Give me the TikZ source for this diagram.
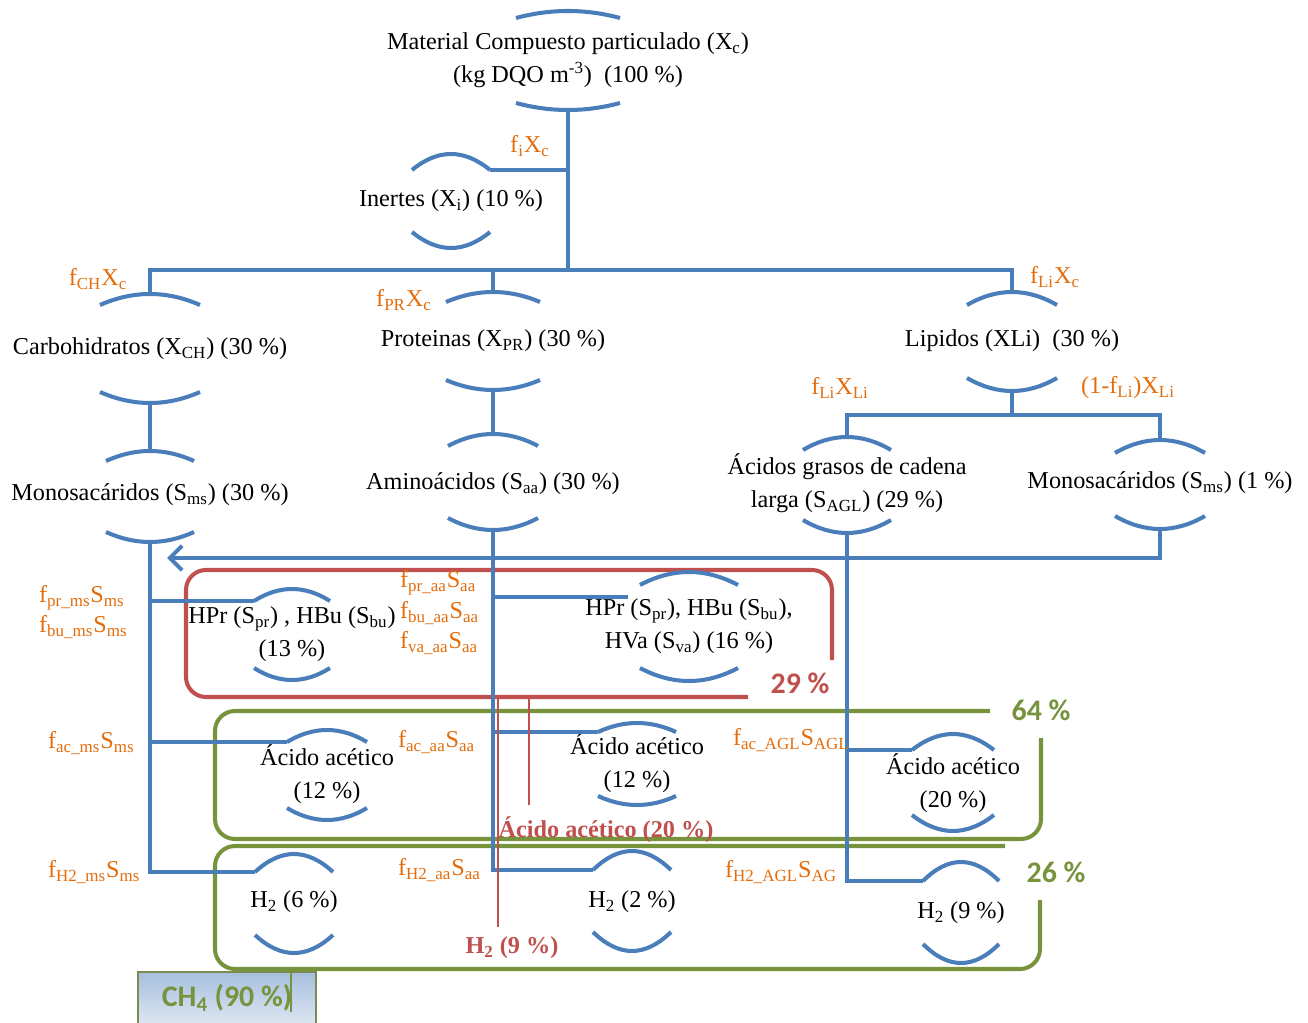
\documentclass[tikz,border=0pt]{standalone}
\usepackage{fontspec}
\setmainfont{Liberation Serif}
\newfontfamily\calibri{Carlito}
\usepackage{tikz}
\usetikzlibrary{arrows.meta, calc}

\definecolor{azul}{HTML}{4A7EBB}
\definecolor{rojo}{HTML}{C0504D}
\definecolor{verde}{HTML}{77933C}
\definecolor{naranja}{HTML}{E46C0A}
\definecolor{celeste1}{HTML}{A7BFDE}
\definecolor{celeste2}{HTML}{DCE6F2}

% arcos arriba y abajo de un nodo: nombre, semiancho, arriba, abajo, flecha
\newcommand{\arcos}[5]{%
  \coordinate (#1-tl) at ($(#1)+(-#2,-#3)$);
  \coordinate (#1-tr) at ($(#1)+(#2,-#3)$);
  \coordinate (#1-t) at ($(#1)+(0,-#3-#5)$);
  \coordinate (#1-bl) at ($(#1)+(-#2,#4)$);
  \coordinate (#1-br) at ($(#1)+(#2,#4)$);
  \coordinate (#1-b) at ($(#1)+(0,#4+#5)$);
  \draw[arco] (#1-tl) .. controls ($(#1)+(-#2/3,-#3-1.333*#5)$) and ($(#1)+(#2/3,-#3-1.333*#5)$) .. (#1-tr);
  \draw[arco] (#1-bl) .. controls ($(#1)+(-#2/3,#4+1.333*#5)$) and ($(#1)+(#2/3,#4+1.333*#5)$) .. (#1-br);
}

\begin{document}
\begin{tikzpicture}[x=0.02cm, y=-0.02cm,
    txt/.style={font=\fontsize{13.8}{18.7}\selectfont, align=center, inner sep=1pt},
    lbl/.style={font=\fontsize{13.8}{18}\selectfont, text=naranja, inner sep=1pt},
    arco/.style={azul, line width=2.3pt},
    lin/.style={azul, line width=2.3pt},
    caja/.style={line width=2.3pt, rounded corners=0.4cm},
    pct/.style={font=\calibri\bfseries\fontsize{17}{20}\selectfont, inner sep=1pt},
    marca/.style={font=\bfseries\fontsize{13.8}{18}\selectfont, text=rojo, inner sep=1pt},
    ch4box/.style={draw=verde!70!gray, line width=1pt, top color=celeste1, bottom color=celeste2,
      minimum width=3.56cm, minimum height=1.04cm, text=verde,
      font=\calibri\bfseries\fontsize{17}{20}\selectfont}]

    \useasboundingbox (0,0) rectangle (1308,1023);

    % cajas de productos
    \draw[rojo, caja] (832,660) -- (832,570) -- (186,570) -- (186,697) -- (748,697);
    \draw[verde, caja] (990,711) -- (215,711) -- (215,839) -- (1041,839) -- (1041,738);
    \draw[verde, caja] (1005,846) -- (215,846) -- (215,969) -- (1040,969) -- (1040,900);

    % nodos
    \node[txt] (mat) at (568,60) {Material Compuesto particulado (X\textsubscript{c})\\(kg DQO m\textsuperscript{-3})~~(100~\%)};
    \node[txt] (ine) at (451,201) {Inertes (X\textsubscript{i}) (10~\%)};
    \node[txt] (car) at (150,349) {Carbohidratos (X\textsubscript{CH}) (30~\%)};
    \node[txt] (pro) at (493,341) {Proteinas (X\textsubscript{PR}) (30~\%)};
    \node[txt] (lip) at (1012,341) {Lipidos (XLi)~~(30~\%)};
    \node[txt] (mon) at (150,495) {Monosacáridos (S\textsubscript{ms}) (30~\%)};
    \node[txt] (ami) at (493,484) {Aminoácidos (S\textsubscript{aa}) (30~\%)};
    \node[txt] (agl) at (847,483) {Ácidos grasos de cadena\\larga (S\textsubscript{AGL}) (29~\%)};
    \node[txt] (mo2) at (1160,483) {Monosacáridos (S\textsubscript{ms}) (1~\%)};
    \node[txt] (hp1) at (292,634) {HPr (S\textsubscript{pr}) , HBu (S\textsubscript{bu})\\(13~\%)};
    \node[txt] (hp2) at (689,626) {HPr (S\textsubscript{pr}), HBu (S\textsubscript{bu}),\\HVa (S\textsubscript{va}) (16~\%)};
    \node[txt] (ac1) at (327,774) {Ácido acético\\(12~\%)};
    \node[txt] (ac2) at (637,763) {Ácido acético\\(12~\%)};
    \node[txt] (ac3) at (953,783) {Ácido acético\\(20~\%)};
    \node[txt] (h21) at (294,902) {H\textsubscript{2} (6~\%)};
    \node[txt] (h22) at (632,902) {H\textsubscript{2} (2~\%)};
    \node[txt] (h23) at (961,913) {H\textsubscript{2} (9~\%)};

    \arcos{mat}{52}{42}{43}{7}
    \arcos{ine}{39}{31}{31}{16}
    \arcos{car}{50}{44}{43}{11}
    \arcos{pro}{47}{39}{39}{10}
    \arcos{lip}{45}{36}{37}{13}
    \arcos{mon}{44}{34}{37}{10}
    \arcos{ami}{45}{38}{34}{12}
    \arcos{agl}{44}{33}{37}{13}
    \arcos{mo2}{45}{30}{33}{13}
    \arcos{hp1}{38}{33}{34}{12}
    \arcos{hp2}{49}{41}{42}{13}
    \arcos{ac1}{40}{32}{34}{12}
    \arcos{ac2}{39}{31}{33}{9}
    \arcos{ac3}{41}{33}{32}{16}
    \arcos{h21}{39}{30}{33}{18}
    \arcos{h22}{39}{32}{30}{19}
    \arcos{h23}{38}{32}{31}{19}

    % desintegracion e hidrolisis
    \coordinate (barra) at (568,270);
    \draw[lin] (mat-b) -- (barra);
    \draw[lin] (ine-tr) -- (ine-tr -| barra);
    \draw[lin] (car-t) |- (barra) -| (lip-t);
    \draw[lin] (pro-t) -- (pro-t |- barra);
    \draw[lin] (car-b) -- (mon-t);
    \draw[lin] (pro-b) -- (ami-t);
    \coordinate (lsp) at (1012,415);
    \draw[lin] (lip-b) -- (lsp);
    \draw[lin] (agl-t) |- (lsp) -| (mo2-t);
    \coordinate (punta) at (167,558);
    \draw[lin, -{Straight Barb[length=7pt,width=14pt]}] (mo2-b) |- (punta);

    % acidogenesis y acetogenesis
    \draw[lin] (mon-b) |- (h21-tl);
    \draw[lin] (mon-b |- hp1-tl) -- (hp1-tl);
    \draw[lin] (mon-b |- ac1-tl) -- (ac1-tl);
    \coordinate (hp2-in) at (628,597);
    \draw[lin] (ami-b) |- (h22-tl);
    \draw[lin] (ami-b |- hp2-in) -- (hp2-in);
    \draw[lin] (ami-b |- ac2-tl) -- (ac2-tl);
    \draw[lin] (agl-b) |- (h23-tl);
    \draw[lin] (agl-b |- ac3-tl) -- (ac3-tl);

    % etiquetas de fracciones
    \node[lbl] (fi) at (530,146) {f\textsubscript{i}X\textsubscript{c}};
    \node[lbl] (fch) at (98,279) {f\textsubscript{CH}X\textsubscript{c}};
    \node[lbl] (fpr) at (404,300) {f\textsubscript{PR}X\textsubscript{c}};
    \node[lbl] (fli) at (1055,277) {f\textsubscript{Li}X\textsubscript{c}};
    \node[lbl] (fli2) at (840,388) {f\textsubscript{Li}X\textsubscript{Li}};
    \node[lbl] (fli3) at (1128,388) {(1-f\textsubscript{Li})X\textsubscript{Li}};
    \foreach \y/\t in {598/pr, 627/bu}
        \node[lbl, anchor=west] (f\t-ms) at (37,\y) {f\textsubscript{\t\_ms}S\textsubscript{ms}};
    \foreach \y/\t in {583/pr, 613/bu, 643/va}
        \node[lbl, anchor=west] (f\t-aa) at (398,\y) {f\textsubscript{\t\_aa}S\textsubscript{aa}};
    \node[lbl, anchor=west] (fac-ms) at (46,743) {f\textsubscript{ac\_ms}S\textsubscript{ms}};
    \node[lbl, anchor=west] (fac-aa) at (396,742) {f\textsubscript{ac\_aa}S\textsubscript{aa}};
    \node[lbl, anchor=west] (fac-agl) at (731,740) {f\textsubscript{ac\_AGL}S\textsubscript{AGL}};
    \node[lbl, anchor=west] (fh-ms) at (46,872) {f\textsubscript{H2\_ms}S\textsubscript{ms}};
    \node[lbl, anchor=west] (fh-aa) at (396,870) {f\textsubscript{H2\_aa}S\textsubscript{aa}};
    \node[lbl, anchor=west] (fh-agl) at (723,872) {f\textsubscript{H2\_AGL}S\textsubscript{AG}};

    % totales
    \node[marca] (aa20) at (606,830) {Ácido acético (20~\%)};
    \node[marca] (h29) at (512,948) {H\textsubscript{2} (9~\%)};
    \coordinate (r1) at (498,697);
    \coordinate (r2) at (529,697);
    \draw[rojo, line width=0.8pt] (r2) -- ($(aa20.north -| r2)+(0,-10)$);
    \draw[rojo, line width=0.8pt] (r1) -- ($(h29.north -| r1)+(0,-8)$);
    \node[pct, text=rojo] (p29) at (800,683) {29~\%};
    \node[pct, text=verde] (p64) at (1041,710) {64~\%};
    \node[pct, text=verde] (p26) at (1056,872) {26~\%};
    \node[ch4box] (ch4) at (227,998) {CH\textsubscript{4} (90~\%)};
    \draw[verde, line width=0.8pt] (291,969) -- (291,1012);
\end{tikzpicture}
\end{document}
